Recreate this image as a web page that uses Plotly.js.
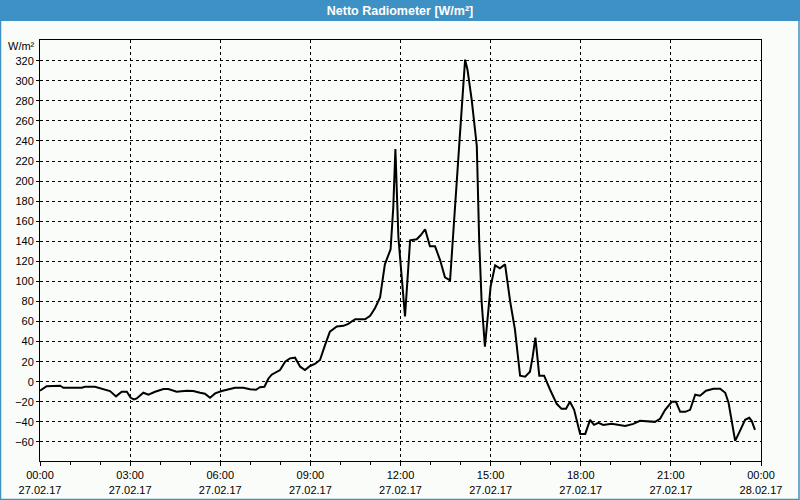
<!DOCTYPE html>
<html>
<head>
<meta charset="utf-8">
<script src="https://cdn.plot.ly/plotly-3.0.1.min.js"></script>
<style>
  html, body { margin: 0; padding: 0; background: #fafcfa; }
  #chart { width: 800px; height: 500px; }
</style>
</head>
<body>
<div id="chart"></div>
<script>
// Time of day in hours (27.02.17 00:00 = 0)
const hours = [
  0.0, 0.22, 0.67, 0.78, 1.39, 1.5, 1.83, 2.16, 2.33, 2.53, 2.72, 2.89, 3.02, 3.13, 3.22, 3.44, 3.61, 3.83,
  4.11, 4.27, 4.55, 4.88, 5.1, 5.33, 5.49, 5.66, 5.83, 6.05, 6.32, 6.49, 6.77, 6.99, 7.19, 7.32, 7.47,
  7.6, 7.71, 7.99, 8.16, 8.32, 8.49, 8.66, 8.82, 8.99, 9.15, 9.32, 9.49, 9.65, 9.88, 10.1, 10.26, 10.49,
  10.82, 10.99, 11.15, 11.32, 11.48, 11.67, 11.76, 11.83, 11.93, 12.04, 12.15, 12.32, 12.54, 12.67, 12.82,
  12.98, 13.15, 13.32, 13.48, 13.65, 13.82, 13.98, 14.15, 14.23, 14.37, 14.54, 14.62, 14.7, 14.81, 14.89,
  15.0, 15.15, 15.31, 15.48, 15.65, 15.81, 15.98, 16.15, 16.31, 16.4, 16.49, 16.62, 16.78, 16.98, 17.2,
  17.36, 17.51, 17.64, 17.78, 17.98, 18.15, 18.31, 18.44, 18.59, 18.75, 19.03, 19.31, 19.48, 19.75, 19.97,
  20.47, 20.64, 20.81, 21.03, 21.17, 21.31, 21.48, 21.64, 21.81, 21.97, 22.17, 22.42, 22.64, 22.81, 22.92,
  23.03, 23.14, 23.3, 23.47, 23.61, 23.69, 23.8
];
// Net radiation, W/m²
const netRadiation = [
  -9, -4.5, -4, -6, -6, -5, -5, -7.5, -9.3, -14.6, -10, -10, -16, -17.6, -16.6, -11, -13, -10,
  -7.3, -7.3, -10, -9, -9.3, -11, -12, -16, -11.6, -9.3, -7.5, -6, -6, -7.5, -8, -5.5, -5,
  3, 7, 11.7, 20, 23.3, 24, 15, 11.7, 15.7, 17.7, 21.7, 36.7, 50, 55, 55.7, 57.7, 62.3,
  62.3, 65.7, 73.3, 84, 117, 132, 174, 232, 144, 104, 65, 141, 142, 146, 152,
  135, 135, 121, 104, 101, 171, 247, 321, 311, 281, 235, 140, 80, 35, 60,
  95, 116, 113, 117, 80, 52, 6, 5, 10, 25, 44, 6, 6, -8, -22,
  -27, -27, -20, -28, -52, -52, -38, -43, -41, -43, -42, -43, -44, -42, -39,
  -40, -37, -28, -20, -20, -30, -30, -28, -13, -14, -9, -7, -7, -11, -21,
  -41, -59, -49, -38, -36, -39, -48
];
const xTickVals = [0, 3, 6, 9, 12, 15, 18, 21, 24];
const xTickText = [
  "00:00<br>27.02.17", "03:00<br>27.02.17", "06:00<br>27.02.17", "09:00<br>27.02.17",
  "12:00<br>27.02.17", "15:00<br>27.02.17", "18:00<br>27.02.17", "21:00<br>27.02.17",
  "00:00<br>28.02.17"
];
const yTickVals = [-60, -40, -20, 0, 20, 40, 60, 80, 100, 120, 140, 160, 180, 200, 220, 240, 260, 280, 300, 320];
const chartTitle = "Netto Radiometer [W/m²]";
const unitLabel = "W/m²";

const W = 800, H = 500, M = {l: 40, r: 39, t: 40, b: 39};
const pw = W - M.l - M.r, ph = H - M.t - M.b;
const px = v => (v - M.l) / pw;           // page x px -> paper
const py = v => 1 - (v - M.t) / ph;       // page y px -> paper
const blue = "#3d91c4";
const font = {family: "Liberation Sans, Arial, sans-serif", size: 11, color: "#000"};

const trace = {
  x: hours, y: netRadiation, type: "scatter", mode: "lines",
  line: {color: "#000", width: 2}, hoverinfo: "skip"
};

const layout = {
  width: W, height: H, margin: M,
  paper_bgcolor: "#fafcfa", plot_bgcolor: "#fafcfa",
  showlegend: false, font: font,
  title: {
    text: chartTitle, xref: "container", x: 0.5, xanchor: "center",
    yref: "container", y: 1 - 10.5 / H, yanchor: "middle",
    font: {family: "Liberation Sans, Arial, sans-serif", size: 12.5, color: "#ffffff", weight: "bold"}
  },
  xaxis: {
    range: [0, 24], tickvals: xTickVals, ticktext: xTickText,
    showgrid: true, gridcolor: "#000", gridwidth: 1, griddash: "3px,3px",
    zeroline: false, showline: true, mirror: true, linecolor: "#000", linewidth: 1,
    ticks: "outside", ticklen: 4, tickcolor: "#000", tickfont: font,
    minor: {dtick: 1, tick0: 0, ticks: "outside", ticklen: 3, tickcolor: "#000", showgrid: false}
  },
  yaxis: {
    range: [-79, 340.6], tickvals: yTickVals,
    showgrid: true, gridcolor: "#000", gridwidth: 1, griddash: "3px,3px",
    zeroline: false, showline: true, mirror: true, linecolor: "#000", linewidth: 1,
    ticks: "outside", ticklen: 3, tickcolor: "#000", tickfont: font
  },
  shapes: [
    {type: "rect", xref: "paper", yref: "paper", x0: px(0), x1: px(W), y0: py(0), y1: py(21),
     fillcolor: blue, line: {width: 0}, layer: "below"},
    {type: "rect", xref: "paper", yref: "paper", x0: px(0.5), x1: px(W - 1), y0: py(0), y1: py(H - 0.5),
     fillcolor: "rgba(0,0,0,0)", line: {color: blue, width: 1.5}}
  ],
  annotations: [
    {text: unitLabel, xref: "paper", yref: "paper", x: px(37), y: py(46), xanchor: "right", yanchor: "middle",
     showarrow: false, font: font}
  ]
};

Plotly.newPlot("chart", [trace], layout, {staticPlot: true, displayModeBar: false});
</script>
</body>
</html>
